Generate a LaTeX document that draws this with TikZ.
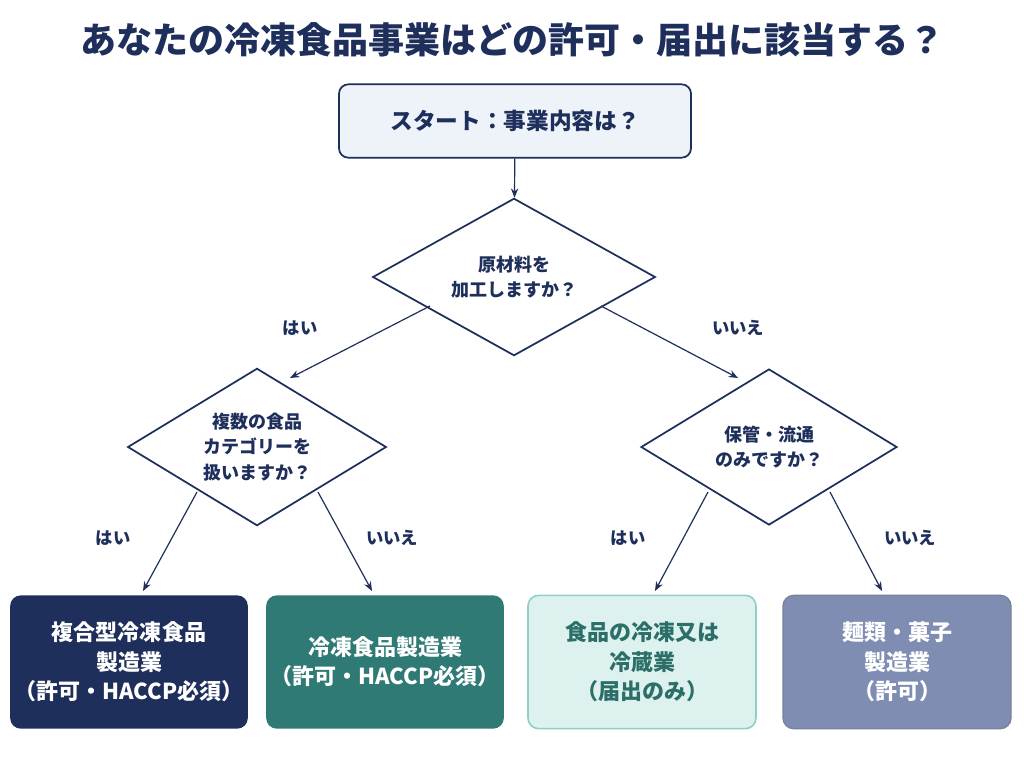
\documentclass[tikz,border=0pt]{standalone}
\usepackage{fontspec}
\setmainfont{Noto Sans CJK JP}
\usetikzlibrary{shapes.geometric,arrows.meta}
\definecolor{navy}{HTML}{1F2F5C}
\definecolor{startbg}{HTML}{EEF3FA}
\definecolor{teal}{HTML}{2F7A74}
\definecolor{lteal}{HTML}{DDF1EE}
\definecolor{lborder}{HTML}{8FCFC8}
\definecolor{slate}{HTML}{7F8DB2}
\definecolor{tealtext}{HTML}{2C6E68}
\begin{document}
\begin{tikzpicture}[x=0.75pt,y=-0.75pt]
    \tikzstyle{q}=[draw=navy,line width=1.3pt,diamond,aspect=1.7,inner sep=0pt,align=center,font=\bfseries\fontsize{13.5}{19}\selectfont,text=navy]
    \tikzstyle{res}=[rounded corners=8pt,minimum width=171pt,minimum height=100pt,align=center,font=\bfseries\fontsize{16.5}{22}\selectfont]
    \tikzstyle{ans}=[font=\bfseries\fontsize{13}{15}\selectfont,text=navy]
    \tikzstyle{fwd}=[draw=navy,line width=0.9pt,-{Stealth[length=7pt,width=5.5pt]}]

    \fill[white] (0,0) rectangle (1024,765);
    \node[font=\bfseries\fontsize{27}{32}\selectfont,text=navy] (title) at (512,40) {あなたの冷凍食品事業はどの許可・届出に該当する？};

    \node[draw=navy,fill=startbg,line width=1.3pt,rounded corners=7pt,minimum width=264pt,minimum height=55pt,font=\bfseries\fontsize{17}{20}\selectfont,text=navy] (start) at (515,121) {スタート：事業内容は？};

    \node[q,minimum width=212pt,minimum height=118pt] (q1) at (514,277) {原材料を\\加工しますか？};
    \node[q,minimum width=194pt,minimum height=118pt] (q2) at (257,447) {複数の食品\\カテゴリーを\\扱いますか？};
    \node[q,minimum width=192pt,minimum height=117pt] (q3) at (769,447) {保管・流通\\のみですか？};

    \node[res,fill=navy,text=white] (r1) at (129,662) {複合型冷凍食品\\製造業\\（許可・HACCP必須）};
    \node[res,fill=teal,text=white] (r2) at (385,662) {冷凍食品製造業\\（許可・HACCP必須）};
    \node[res,fill=lteal,draw=lborder,line width=1.2pt,text=tealtext] (r3) at (642,662) {食品の冷凍又は\\冷蔵業\\（届出のみ）};
    \node[res,fill=slate,draw=navy!60,line width=1pt,text=white] (r4) at (897,662) {麺類・菓子\\製造業\\（許可）};

    \node[ans] (a1) at (300,328) {はい};
    \node[ans] (a2) at (738,328) {いいえ};
    \node[ans] (a3) at (113,538) {はい};
    \node[ans] (a4) at (392,538) {いいえ};
    \node[ans] (a5) at (628,538) {はい};
    \node[ans] (a6) at (910,538) {いいえ};

    \coordinate (s1) at (430,306);
    \coordinate (s2) at (601,306);
    \coordinate (s3) at (197,492);
    \coordinate (s4) at (318,492);
    \coordinate (s5) at (708,492);
    \coordinate (s6) at (830,492);
    \coordinate (e1) at (290,378);
    \coordinate (e2) at (738,378);
    \coordinate (e3) at (143,591);
    \coordinate (e4) at (372,591);
    \coordinate (e5) at (655,591);
    \coordinate (e6) at (882,591);

    \draw [fwd] (start) -- (q1);
    \draw [fwd] (s1) -- (e1);
    \draw [fwd] (s2) -- (e2);
    \draw [fwd] (s3) -- (e3);
    \draw [fwd] (s4) -- (e4);
    \draw [fwd] (s5) -- (e5);
    \draw [fwd] (s6) -- (e6);
\end{tikzpicture}
\end{document}
